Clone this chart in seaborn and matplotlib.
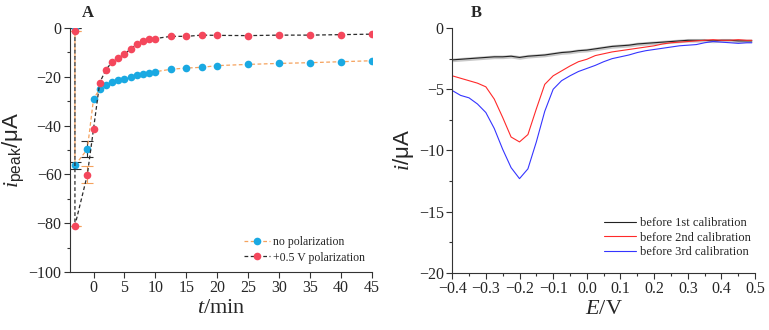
import numpy as np
import pandas as pd
import matplotlib
matplotlib.use("Agg")
import matplotlib.pyplot as plt
from matplotlib.ticker import MultipleLocator
import seaborn as sns

sns.set_theme(style="ticks")
plt.rcParams["font.family"] = ["Liberation Serif", "DejaVu Serif"]
plt.rcParams["mathtext.fontset"] = "custom"
plt.rcParams["mathtext.it"] = "Liberation Serif:italic"
plt.rcParams["mathtext.rm"] = "Liberation Sans"

# Panel A data: peak current vs time
t_nopol = [-3, -3, -1, 0, 1, 2, 3, 4, 5, 6, 7, 8, 9, 10, 12.5, 15, 17.5, 20, 25, 30, 35, 40, 45]
i_nopol = [0, -56.3, -49.7, -29.1, -25.0, -23.5, -22.3, -21.3, -20.8, -20.1, -19.4, -18.9, -18.4,
           -17.9, -16.9, -16.4, -16.1, -15.4, -14.9, -14.5, -14.2, -13.8, -13.4]
# error bars only on the first points
e_nopol = [0, 1.5, 3.3]

t_pol = [-3, -3, -1, 0, 1, 2, 3, 4, 5, 6, 7, 8, 9, 10, 12.5, 15, 17.5, 20, 25, 30, 35, 40, 45]
i_pol = [-1.2, -81.0, -60.2, -41.4, -22.4, -17.1, -13.9, -12.2, -10.8, -8.5, -6.5, -5.5, -4.6,
         -4.3, -3.4, -3.4, -2.9, -3.0, -3.1, -2.9, -2.9, -2.7, -2.5]
e_pol = [0, 0, 3.5]

# Panel B data: voltammograms
E = [-0.4, -0.375, -0.35, -0.325, -0.3, -0.275, -0.25, -0.225, -0.2, -0.175, -0.15, -0.125,
     -0.1, -0.075, -0.05, -0.025, 0.0, 0.025, 0.05, 0.075, 0.1, 0.125, 0.15, 0.175, 0.2, 0.225,
     0.25, 0.275, 0.3, 0.325, 0.35, 0.375, 0.4, 0.425, 0.45, 0.475, 0.49]
i_cal1 = [-2.6, -2.55, -2.5, -2.45, -2.4, -2.35, -2.35, -2.3, -2.4, -2.3, -2.25, -2.2, -2.1,
          -2.0, -1.95, -1.85, -1.8, -1.7, -1.6, -1.5, -1.45, -1.4, -1.3, -1.25, -1.2, -1.15,
          -1.1, -1.05, -1.0, -1.0, -1.0, -1.05, -1.0, -1.0, -1.05, -1.05, -1.05]
i_cal2 = [-3.9, -4.1, -4.3, -4.5, -4.8, -5.8, -7.3, -8.9, -9.3, -8.7, -6.6, -4.6, -3.9, -3.5,
          -3.1, -2.75, -2.55, -2.25, -2.1, -1.95, -1.85, -1.75, -1.65, -1.55, -1.45, -1.3, -1.2,
          -1.15, -1.1, -1.05, -1.0, -0.95, -1.0, -1.0, -0.95, -1.0, -1.0]
i_cal3 = [-5.1, -5.5, -5.7, -6.2, -6.9, -8.2, -9.9, -11.4, -12.3, -11.5, -9.3, -6.8, -5.0,
          -4.3, -3.9, -3.55, -3.3, -3.05, -2.75, -2.5, -2.35, -2.2, -2.0, -1.85, -1.75, -1.65,
          -1.55, -1.45, -1.4, -1.35, -1.2, -1.1, -1.15, -1.2, -1.25, -1.2, -1.2]
cal_labels = ["before 1st calibration", "before 2nd calibration", "before 3rd calibration"]

c_blue = "#1aa9e2"
c_red = "#f4475c"
c_orange = "#f5a25d"
c_black = "#2b2b2b"

fig = plt.figure(figsize=(7.69, 3.30), dpi=100)
axA = fig.add_axes([0.091, 0.176, 0.393, 0.739])
axB = fig.add_axes([0.588, 0.173, 0.394, 0.742])

# ---- Panel A ----
dfA = pd.DataFrame({"t": t_nopol + t_pol, "i": i_nopol + i_pol,
                    "s": ["no polarization"] * len(t_nopol) + ["+0.5 V polarization"] * len(t_pol)})
n1, n2 = len(e_nopol), len(e_pol)
axA.errorbar(t_nopol[:n1], i_nopol[:n1], yerr=e_nopol, fmt="none", ecolor=c_black,
             elinewidth=0.8, capsize=4.5, capthick=0.8, zorder=2)
axA.errorbar(t_pol[:n2], i_pol[:n2], yerr=e_pol, fmt="none", ecolor=c_orange,
             elinewidth=0.8, capsize=4.5, capthick=0.8, zorder=2)
sns.lineplot(data=dfA[dfA.s == "no polarization"], x="t", y="i", estimator=None, sort=False,
             ax=axA, color=c_orange, linestyle=(0, (3, 2)), linewidth=0.9, marker="o",
             markersize=5.5, markerfacecolor=c_blue, markeredgecolor=c_blue,
             markeredgewidth=0, label="no polarization", zorder=3)
sns.lineplot(data=dfA[dfA.s == "+0.5 V polarization"], x="t", y="i", estimator=None, sort=False,
             ax=axA, color=c_black, linestyle=(0, (3, 2)), linewidth=0.9, marker="o",
             markersize=5.5, markerfacecolor=c_red, markeredgecolor=c_red,
             markeredgewidth=0, label="+0.5 V polarization", zorder=3)
axA.set_xlim(-3.8, 45)
axA.set_ylim(-100, 0)
axA.xaxis.set_major_locator(MultipleLocator(5))
axA.yaxis.set_major_locator(MultipleLocator(20))
axA.yaxis.set_minor_locator(MultipleLocator(10))
axA.set_xlabel(r"$t$/min", fontsize=16, family="Liberation Serif", labelpad=2)
axA.set_ylabel(r"$i_{\mathrm{peak}}$/μA", fontsize=16, family="Liberation Sans", labelpad=2)
axA.legend(loc="lower right", bbox_to_anchor=(1.0, 0.005), frameon=False, fontsize=8.5,
           handlelength=2.2, handletextpad=0.3, borderaxespad=0.2, labelspacing=0.3)
axA.text(0.04, 1.03, "A", transform=axA.transAxes, fontsize=12, fontweight="bold",
         ha="left", va="bottom")

# ---- Panel B ----
axB.fill_between(E, np.array(i_cal1) - 0.15, np.array(i_cal1) + 0.15, color="#c8c8c8",
                 linewidth=0, zorder=1)
for vals, col, lab in zip([i_cal1, i_cal2, i_cal3], ["#222222", "#ff2a2a", "#3535ff"], cal_labels):
    sns.lineplot(x=E, y=vals, ax=axB, color=col, linewidth=0.8, label=lab, estimator=None,
                 sort=False, zorder=2)
axB.set_xlim(-0.4, 0.5)
axB.set_ylim(-20, 0)
axB.xaxis.set_minor_locator(MultipleLocator(0.05))
axB.yaxis.set_major_locator(MultipleLocator(5))
axB.yaxis.set_minor_locator(MultipleLocator(2.5))
xt = np.round(np.arange(-0.4, 0.51, 0.1), 1)
axB.set_xticks(xt)
axB.set_xticklabels([("0.0" if abs(v) < 1e-9 else f"{v:.1f}".replace("-", "\u2212")) for v in xt])
axB.set_xlabel(r"$E$/V", fontsize=16, family="Liberation Serif", labelpad=2)
axB.set_ylabel(r"$i$/μA", fontsize=16, family="Liberation Sans", labelpad=2)
axB.legend(loc="lower right", bbox_to_anchor=(1.01, 0.03), frameon=False, fontsize=9,
           handlelength=2.6, handletextpad=0.3, borderaxespad=0.2, labelspacing=0.2)
axB.text(0.06, 1.03, "B", transform=axB.transAxes, fontsize=12, fontweight="bold",
         ha="left", va="bottom")

for ax in (axA, axB):
    sns.despine(ax=ax)
    ax.tick_params(axis="both", which="major", labelsize=11.5, direction="out", length=4,
                   width=0.8, color="#333333", pad=2)
    ax.tick_params(axis="both", which="minor", direction="out", length=2.5, width=0.8,
                   color="#333333")
    for sp in ("left", "bottom"):
        ax.spines[sp].set_color("#333333")
        ax.spines[sp].set_linewidth(0.8)

fig.savefig("out.png", dpi=100)
